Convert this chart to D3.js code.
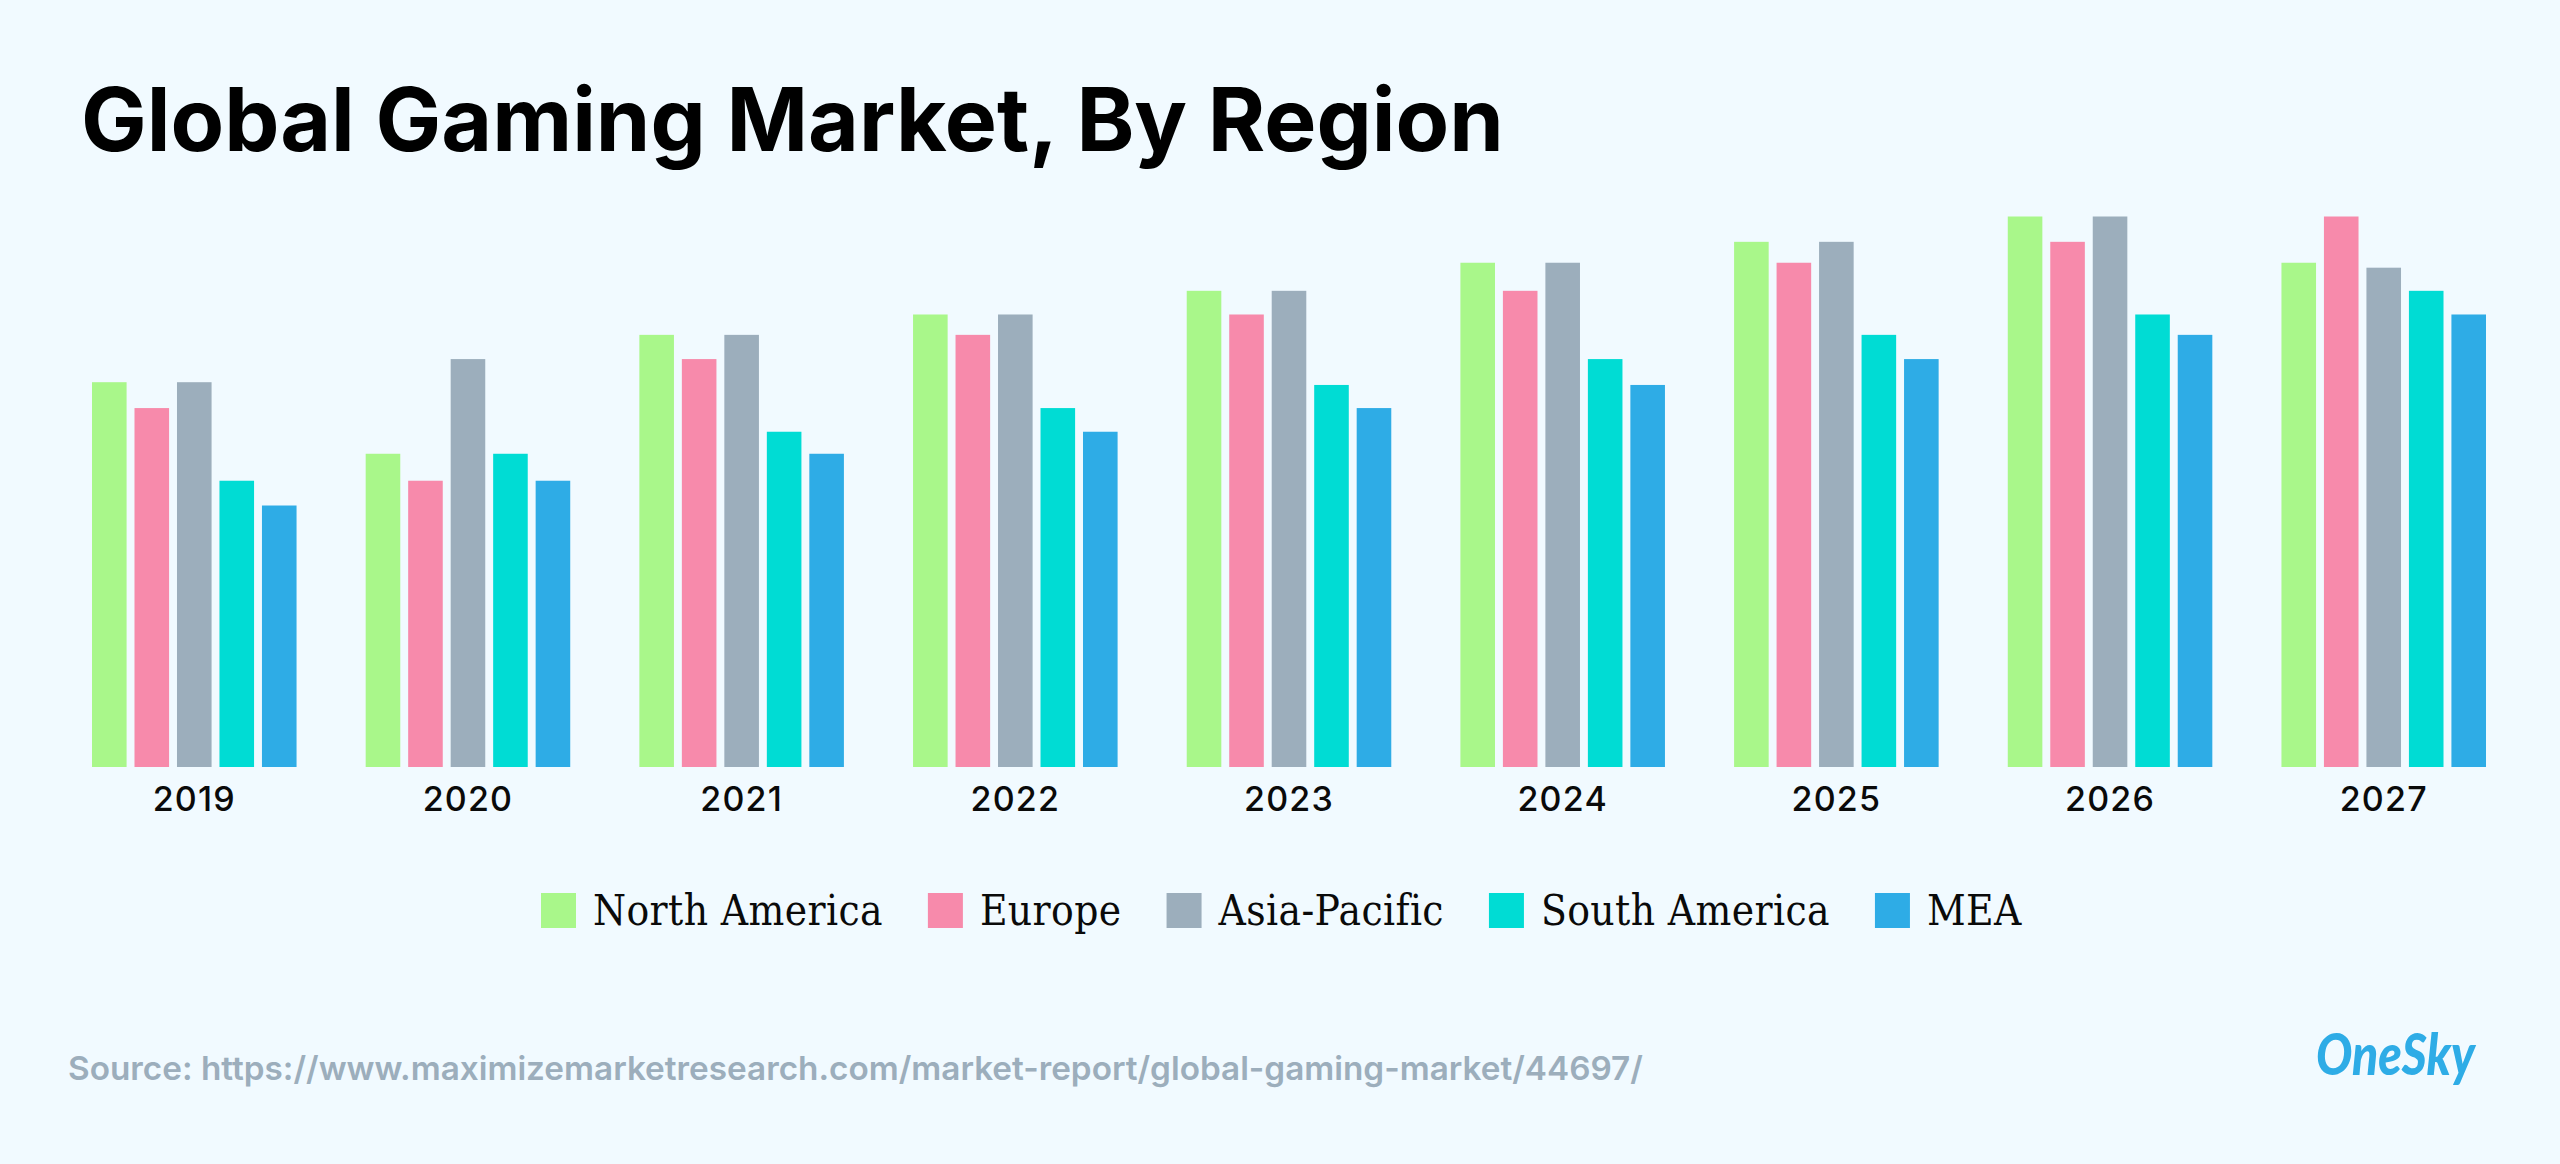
<!DOCTYPE html>
<html>
<head>
<meta charset="utf-8">
<script src="https://cdn.jsdelivr.net/npm/d3@7"></script>
<style>
  html, body { margin: 0; padding: 0; background: #F1FAFF; }
  svg { display: block; }
  .axis text { font-family: Inter, sans-serif; font-size: 34px; font-weight: 500; letter-spacing: 1.2px; fill: #0a0a0a; }
</style>
</head>
<body>
<div id="chart"></div>
<script>
var years = ["2019", "2020", "2021", "2022", "2023", "2024", "2025", "2026", "2027"];
var regions = ["North America", "Europe", "Asia-Pacific", "South America", "MEA"];
var colors = ["#A9F78A", "#F78AAB", "#9CAEBC", "#00DCD4", "#2EACE6"];

// No value axis in the picture, so values are relative to the tallest bar (= 100)
var northAmerica = [69.9, 56.9, 78.5, 82.2, 86.5, 91.6, 95.4, 100, 91.6];
var europe = [65.2, 52, 74.1, 78.5, 82.2, 86.5, 91.6, 95.4, 100];
var asiaPacific = [69.9, 74.1, 78.5, 82.2, 86.5, 91.6, 95.4, 100, 90.7];
var southAmerica = [52, 56.9, 60.9, 65.2, 69.4, 74.1, 78.5, 82.2, 86.5];
var mea = [47.5, 52, 56.9, 60.9, 65.2, 69.4, 74.1, 78.5, 82.2];
var series = [northAmerica, europe, asiaPacific, southAmerica, mea];

var svgWidth = 2560;
var svgHeight = 1164;
var baseline = 767;

var svg = d3.select("#chart")
  .append("svg")
  .attr("width", svgWidth)
  .attr("height", svgHeight);

// Year groups
var x0 = d3.scaleBand()
  .domain(years)
  .range([92, 2486])
  .paddingInner(0.2526)
  .paddingOuter(0);

// Bars inside one year
var x1 = d3.scaleBand()
  .domain(regions)
  .range([0, x0.bandwidth()])
  .paddingInner(0.186)
  .paddingOuter(0);

var y = d3.scaleLinear()
  .domain([0, 100])
  .range([baseline, 216.5]);

var color = d3.scaleOrdinal()
  .domain(regions)
  .range(colors);

// Title
svg.append("text")
  .attr("x", 81)
  .attr("y", 151)
  .attr("font-family", "Inter, sans-serif")
  .attr("font-size", 87.6)
  .attr("font-weight", 700)
  .attr("fill", "#000")
  .text("Global Gaming Market, By Region");

// Bars
var groups = svg.selectAll(".year")
  .data(years)
  .enter()
  .append("g")
  .attr("class", "year")
  .attr("transform", d => `translate(${x0(d)}, 0)`);

groups.selectAll("rect")
  .data((d, i) => regions.map((r, j) => ({ region: r, value: series[j][i] })))
  .enter()
  .append("rect")
  .attr("x", d => x1(d.region))
  .attr("y", d => y(d.value))
  .attr("width", x1.bandwidth())
  .attr("height", d => baseline - y(d.value))
  .attr("fill", d => color(d.region));

// Year labels
var xAxis = svg.append("g")
  .attr("class", "axis")
  .attr("transform", `translate(0, ${baseline})`)
  .call(d3.axisBottom(x0).tickSize(0).tickPadding(20));

xAxis.select(".domain").remove();

// Legend, laid out from the measured label widths
var legendX = 541;
regions.forEach(function(r) {
  svg.append("rect")
    .attr("x", legendX)
    .attr("y", 893)
    .attr("width", 35)
    .attr("height", 35)
    .attr("fill", color(r));

  var label = svg.append("text")
    .attr("x", legendX + 52)
    .attr("y", 925)
    .attr("font-family", "'DejaVu Serif Condensed', 'DejaVu Serif', serif")
    .attr("font-size", 42)
    .attr("letter-spacing", 0.4)
    .attr("fill", "#0a0a0a")
    .text(r);

  legendX += 52 + label.node().getComputedTextLength() + 45;
});

// Source line
svg.append("text")
  .attr("x", 68)
  .attr("y", 1080)
  .attr("font-family", "Inter, sans-serif")
  .attr("font-size", 33.3)
  .attr("font-weight", 600)
  .attr("fill", "#9CAEBC")
  .text("Source: https://www.maximizemarketresearch.com/market-report/global-gaming-market/44697/");

// Logo
svg.append("text")
  .attr("x", 2316)
  .attr("y", 1075)
  .attr("font-family", "Lato, sans-serif")
  .attr("font-size", 58)
  .attr("font-weight", 900)
  .attr("font-style", "italic")
  .attr("fill", "#2EACE6")
  .attr("textLength", 159)
  .attr("lengthAdjust", "spacingAndGlyphs")
  .text("OneSky");
</script>
</body>
</html>
